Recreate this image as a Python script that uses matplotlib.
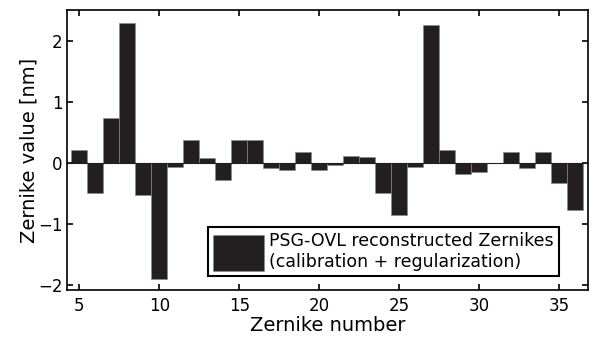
import matplotlib
matplotlib.use("Agg")
import matplotlib.pyplot as plt

# Zernike index and reconstructed values [nm]
zernike_idx = list(range(5, 37))
zernike_val = [0.22, -0.49, 0.74, 2.29, -0.52, -1.90, -0.06, 0.38, 0.08, -0.28,
               0.38, 0.38, -0.08, -0.11, 0.18, -0.11, -0.03, 0.12, 0.10, -0.49,
               -0.85, -0.06, 2.26, 0.22, -0.18, -0.14, 0.01, 0.18, -0.08, 0.18,
               -0.32, -0.77]
x_ticks = [5, 10, 15, 20, 25, 30, 35]
y_ticks = [-2, -1, 0, 1, 2]

plt.rcParams['font.family'] = ['DejaVu Sans']

fig = plt.figure(figsize=(5.96, 3.47), dpi=100)
ax = fig.add_axes([0.1124, 0.164, 0.8742, 0.807])

ax.bar(zernike_idx, zernike_val, width=1.0, color='#231f20',
       edgecolor='#8a8a8a', linewidth=0.4,
       label='PSG-OVL reconstructed Zernikes\n(calibration + regularization)')
ax.axhline(0, color='#231f20', linewidth=0.8)

ax.set_xlim(4.23, 36.8)
ax.set_ylim(-2.08, 2.51)
ax.set_xticks(x_ticks)
ax.set_yticks(y_ticks)
ax.tick_params(direction='in', top=True, right=True, length=4, width=1.2,
               labelsize=12)
ax.tick_params(axis='y', pad=3)
ax.tick_params(axis='x', pad=5)
for s in ax.spines.values():
    s.set_linewidth(1.2)

ax.set_xlabel("Zernike number", fontsize=14, labelpad=1)
ax.set_ylabel("Zernike value [nm]", fontsize=14, labelpad=0)

leg = ax.legend(loc='lower right', bbox_to_anchor=(0.944, 0.05), fontsize=12.5,
                handlelength=2.9, handleheight=2.8, handletextpad=0.3,
                fancybox=False, framealpha=1, borderpad=0.3, labelspacing=0.15,
                borderaxespad=0)
leg.get_frame().set_edgecolor('black')
leg.get_frame().set_linewidth(1.5)

fig.savefig("out.png", dpi=100)
